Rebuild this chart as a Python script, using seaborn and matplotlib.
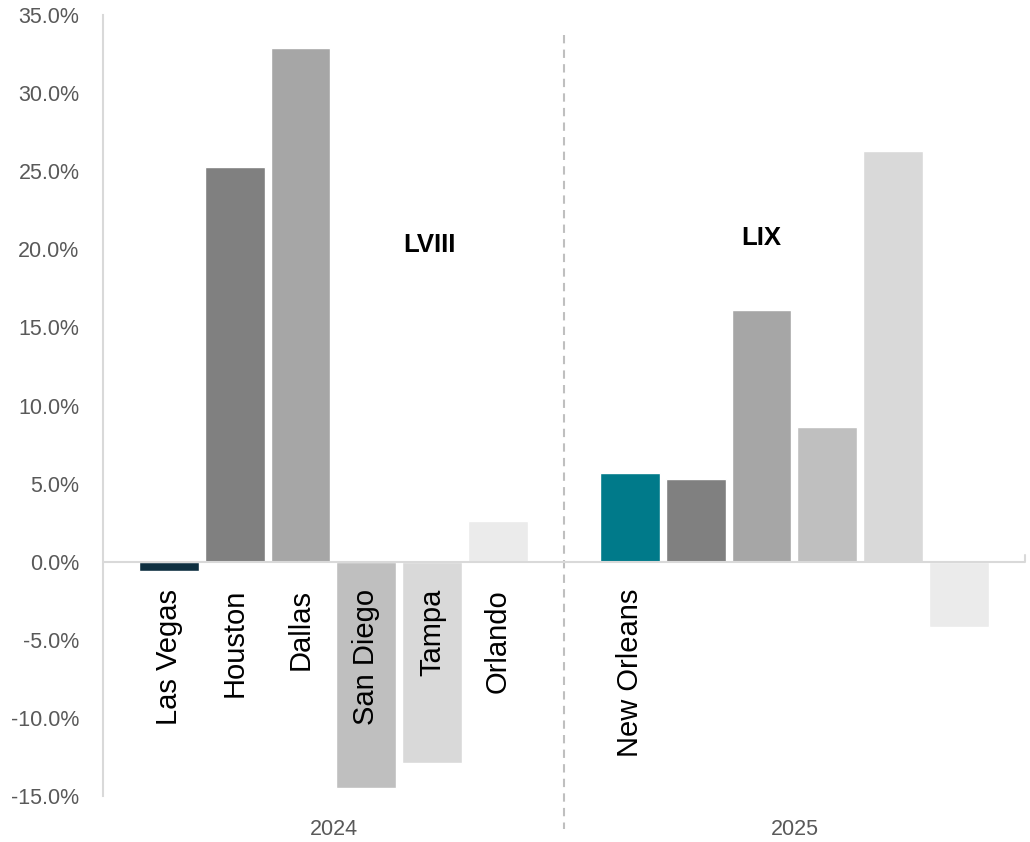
import numpy as np
import pandas as pd
import matplotlib
matplotlib.use("Agg")
import matplotlib.pyplot as plt
import seaborn as sns

#--------------------------------Data----------------------------#
years = ["2024", "2025"]
cities_2024 = ["Las Vegas", "Houston", "Dallas", "San Diego", "Tampa", "Orlando"]
cities_2025 = ["New Orleans", "", "", "", "", ""]
values_2024 = [-0.6, 25.3, 32.9, -14.5, -12.9, 2.6]
values_2025 = [5.7, 5.3, 16.1, 8.65, 26.3, -4.2]
colors_2024 = ["#0e2f40", "#808080", "#a6a6a6", "#bfbfbf", "#d9d9d9", "#ebebeb"]
colors_2025 = ["#007a8a", "#808080", "#a6a6a6", "#bfbfbf", "#d9d9d9", "#ebebeb"]
game_labels = ["LVIII", "LIX"]
game_label_pos = [(4.95, 20.25), (10.0, 20.7)]
yticks = [-15, -10, -5, 0, 5, 10, 15, 20, 25, 30, 35]

#--------------------------------Build table----------------------------#
n = len(cities_2024)
pos = list(range(1, n + 1)) + list(range(n + 2, 2 * n + 2))
df = pd.DataFrame({
    "pos": pos,
    "value": values_2024 + values_2025,
    "city": cities_2024 + cities_2025,
    "color": colors_2024 + colors_2025,
})

#--------------------------------Plot----------------------------#
sns.set_style("white")
plt.rcParams['font.family'] = ['Liberation Sans', 'DejaVu Sans']

fig = plt.figure(figsize=(10.3, 8.42), dpi=100)
ax = fig.add_axes([0.1, 0.0546, 0.895, 0.9276])

sns.barplot(data=df, x="pos", y="value", hue="pos", palette=list(df["color"]),
            native_scale=True, width=0.91, legend=False, saturation=1, ax=ax)

ax.set_xlim(0, 2 * n + 2)
ax.set_ylim(-15, 35)
ax.set_yticks(yticks)
ax.set_yticklabels([f"{t:.1f}%" for t in yticks], color="#595959", fontsize=15.5)
ax.set_xticks([])
ax.set_xlabel("")
ax.set_ylabel("")
ax.tick_params(axis="y", length=0, pad=17)

for s in ["top", "right", "bottom"]:
    ax.spines[s].set_visible(False)
ax.spines["left"].set_color("#d9d9d9")
ax.spines["left"].set_linewidth(1.5)

# zero line
ax.axhline(0, color="#d9d9d9", lw=1.5, zorder=3)
ax.plot([2 * n + 2, 2 * n + 2], [0, 0.4], color="#d9d9d9", lw=1.5, clip_on=False)

# divider between years
ax.plot([n + 1, n + 1], [33.7, -17.1], color="#bfbfbf", lw=1.5, ls=(0, (4, 3)),
        clip_on=False)

# city labels
for p, c in zip(df["pos"], df["city"]):
    if c:
        ax.annotate(c, xy=(p, 0), xytext=(0, -19.5), textcoords="offset points",
                    rotation=90, ha="center", va="top", fontsize=21, color="black")

# year labels
for i, y in enumerate(years):
    mid = np.mean(pos[i * n:(i + 1) * n])
    ax.annotate(y, xy=(mid, -15), xytext=(0, -24), textcoords="offset points",
                ha="center", va="center", fontsize=15.5, color="#595959",
                annotation_clip=False)

for lab, (x, y) in zip(game_labels, game_label_pos):
    ax.text(x, y, lab, ha="center", va="center", fontsize=18.5, fontweight="bold",
            color="black")

fig.savefig("out.png", dpi=100)
